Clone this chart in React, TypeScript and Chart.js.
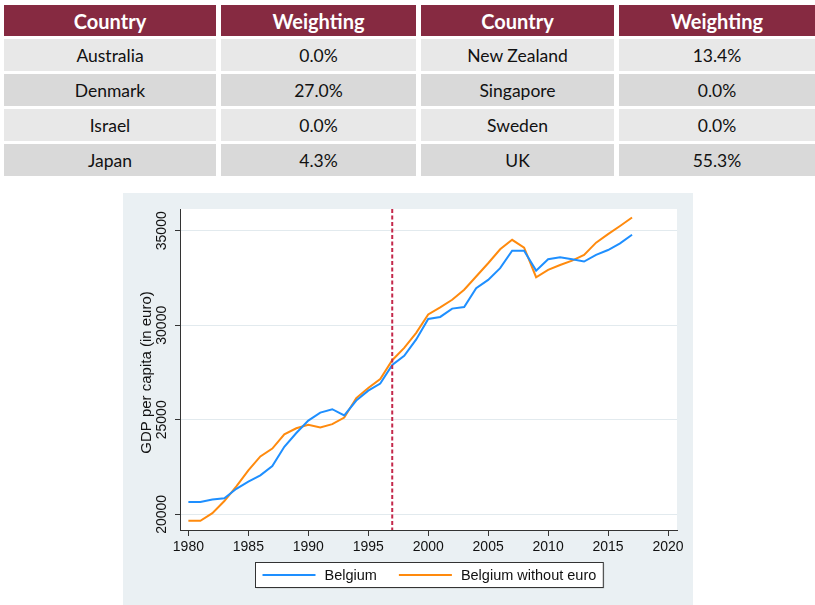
import React, { useEffect, useRef } from "react";
import { Chart, registerables } from "chart.js";

Chart.register(...registerables);

const years = [
  1980, 1981, 1982, 1983, 1984, 1985, 1986, 1987, 1988, 1989,
  1990, 1991, 1992, 1993, 1994, 1995, 1996, 1997, 1998, 1999,
  2000, 2001, 2002, 2003, 2004, 2005, 2006, 2007, 2008, 2009,
  2010, 2011, 2012, 2013, 2014, 2015, 2016, 2017,
];
const belgium = [
  20650, 20650, 20780, 20850, 21350, 21730, 22060, 22550, 23570, 24300,
  24960, 25380, 25560, 25230, 26020, 26540, 26920, 27900, 28380, 29250,
  30330, 30440, 30880, 30960, 31960, 32400, 33020, 33940, 33940, 32890,
  33490, 33600, 33490, 33370, 33720, 33980, 34330, 34790,
];
const belgiumWithoutEuro = [
  19660, 19660, 20060, 20700, 21480, 22320, 23060, 23480, 24230, 24550,
  24740, 24590, 24770, 25120, 26150, 26680, 27160, 28150, 28800, 29600,
  30570, 30950, 31350, 31880, 32580, 33280, 34020, 34520, 34110, 32540,
  32930, 33190, 33420, 33720, 34370, 34820, 35250, 35700,
];
const seriesLabels = ["Belgium", "Belgium without euro"];
const xTicks = [1980, 1985, 1990, 1995, 2000, 2005, 2010, 2015, 2020];
const yTicks = [20000, 25000, 30000, 35000];
const treatmentYear = 1997;
const yTitle = "GDP per capita (in euro)";

const tableHeaders = ["Country", "Weighting", "Country", "Weighting"];
const leftCountries = ["Australia", "Denmark", "Israel", "Japan"];
const leftWeights = ["0.0%", "27.0%", "0.0%", "4.3%"];
const rightCountries = ["New Zealand", "Singapore", "Sweden", "UK"];
const rightWeights = ["13.4%", "0.0%", "0.0%", "55.3%"];

const FONT = "'Liberation Sans', Arial, sans-serif";
const PANEL = "#eaf0f3";

const colX = [4, 221, 421, 619];
const colW = [212, 195, 193, 196];
const rowY = [5, 39, 74, 109, 144];
const rowH = [31, 32, 32, 32, 32];

function Table() {
  const cells: React.ReactNode[] = [];
  tableHeaders.forEach((h, c) => {
    cells.push(
      <div
        key={"h" + c}
        style={{
          position: "absolute",
          left: colX[c],
          top: rowY[0],
          width: colW[c],
          height: rowH[0],
          background: "#862a41",
          color: "#fff",
          fontWeight: 700,
          fontSize: 20,
          display: "flex",
          alignItems: "center",
          justifyContent: "center",
        }}
      >
        {h}
      </div>
    );
  });
  const cols = [leftCountries, leftWeights, rightCountries, rightWeights];
  for (let r = 0; r < 4; r++) {
    for (let c = 0; c < 4; c++) {
      cells.push(
        <div
          key={"c" + r + "_" + c}
          style={{
            position: "absolute",
            left: colX[c],
            top: rowY[r + 1],
            width: colW[c],
            height: rowH[r + 1],
            background: r % 2 === 0 ? "#e8e8e8" : "#d9d9d9",
            color: "#111",
            fontSize: 17.5,
            display: "flex",
            alignItems: "center",
            justifyContent: "center",
          }}
        >
          {cols[c][r]}
        </div>
      );
    }
  }
  return <>{cells}</>;
}

export default function App() {
  const ref = useRef<HTMLCanvasElement | null>(null);

  useEffect(() => {
    if (!ref.current) return;

    const customPlugin = {
      id: "custom",
      beforeDraw(chart: any) {
        const { ctx, chartArea, width, height } = chart;
        ctx.save();
        ctx.fillStyle = PANEL;
        ctx.fillRect(0, 0, width, height);
        ctx.fillStyle = "#ffffff";
        ctx.fillRect(chartArea.left, chartArea.top, chartArea.right - chartArea.left, chartArea.bottom - chartArea.top);
        ctx.restore();
      },
      afterDatasetsDraw(chart: any) {
        const { ctx, chartArea } = chart;
        const x = chart.scales.x.getPixelForValue(treatmentYear);
        ctx.save();
        ctx.strokeStyle = "#c4284b";
        ctx.lineWidth = 2;
        ctx.setLineDash([4, 2.5]);
        ctx.beginPath();
        ctx.moveTo(x, chartArea.top);
        ctx.lineTo(x, chartArea.bottom);
        ctx.stroke();
        ctx.restore();
      },
      afterDraw(chart: any) {
        const { ctx, chartArea } = chart;
        const ys = chart.scales.y;
        ctx.save();
        // y tick labels, rotated
        ctx.fillStyle = "#111";
        ctx.font = "14px " + FONT;
        ctx.textAlign = "center";
        ctx.textBaseline = "middle";
        yTicks.forEach((v) => {
          const py = ys.getPixelForValue(v);
          ctx.save();
          ctx.translate(39, py);
          ctx.rotate(-Math.PI / 2);
          ctx.fillText(String(v), 0, 0);
          ctx.restore();
        });
        // y title
        ctx.save();
        ctx.font = "15px " + FONT;
        ctx.translate(23.5, (chartArea.top + chartArea.bottom) / 2 + 3);
        ctx.rotate(-Math.PI / 2);
        ctx.fillText(yTitle, 0, 0);
        ctx.restore();

        // legend
        const ds = chart.data.datasets;
        ctx.font = "14.5px " + FONT;
        const pad = 7, lineLen = 53, gap = 9, itemGap = 22;
        const textW = ds.map((d: any) => ctx.measureText(d.label).width);
        let total = pad * 2;
        ds.forEach((d: any, i: number) => {
          total += lineLen + gap + textW[i];
          if (i > 0) total += itemGap;
        });
        const cx = (chartArea.left + chartArea.right) / 2;
        const bx = Math.round(cx - total / 2) + 0.5;
        const by = 369.5;
        const bh = 25;
        ctx.fillStyle = "rgba(0,0,0,0.15)";
        ctx.fillRect(bx + 1, by + 1, total, bh);
        ctx.fillStyle = "#ffffff";
        ctx.fillRect(bx, by, total, bh);
        ctx.strokeStyle = "#333";
        ctx.lineWidth = 1;
        ctx.setLineDash([]);
        ctx.strokeRect(bx, by, total, bh);
        let x = bx + pad;
        const cy = by + bh / 2;
        ds.forEach((d: any, i: number) => {
          if (i > 0) x += itemGap;
          ctx.strokeStyle = d.borderColor;
          ctx.lineWidth = 2;
          ctx.beginPath();
          ctx.moveTo(x, cy);
          ctx.lineTo(x + lineLen, cy);
          ctx.stroke();
          x += lineLen + gap;
          ctx.fillStyle = "#111";
          ctx.textAlign = "left";
          ctx.textBaseline = "middle";
          ctx.fillText(d.label, x, cy + 1);
          x += textW[i];
        });
        ctx.restore();
      },
    };

    const chart = new Chart(ref.current, {
      type: "line",
      data: {
        datasets: [
          {
            label: seriesLabels[0],
            data: years.map((y, i) => ({ x: y, y: belgium[i] })),
            borderColor: "#1e8fff",
            borderWidth: 2,
            pointRadius: 0,
            tension: 0,
          },
          {
            label: seriesLabels[1],
            data: years.map((y, i) => ({ x: y, y: belgiumWithoutEuro[i] })),
            borderColor: "#ff8a0d",
            borderWidth: 2,
            pointRadius: 0,
            tension: 0,
          },
        ],
      },
      options: {
        responsive: false,
        animation: false,
        layout: { padding: { left: 0, right: 16, top: 16, bottom: 0 } },
        plugins: {
          legend: { display: false },
          tooltip: { enabled: false },
        },
        scales: {
          x: {
            type: "linear",
            min: 1979.3,
            max: 2020.75,
            afterBuildTicks: (s: any) => {
              s.ticks = xTicks.map((v) => ({ value: v }));
            },
            afterFit: (s: any) => {
              s.height = 75;
            },
            ticks: {
              font: { family: FONT, size: 14 },
              color: "#111",
              padding: 3,
              maxRotation: 0,
              autoSkip: false,
              callback: (v: any) => String(v),
            },
            grid: {
              drawOnChartArea: false,
              drawTicks: true,
              tickLength: 6,
              tickColor: "#333",
            },
            border: { color: "#333", width: 1 },
          },
          y: {
            type: "linear",
            min: 19170,
            max: 36150,
            afterBuildTicks: (s: any) => {
              s.ticks = yTicks.map((v) => ({ value: v }));
            },
            afterFit: (s: any) => {
              s.width = 57;
            },
            ticks: { display: false },
            grid: {
              color: "#e2eaee",
              lineWidth: 1,
              drawTicks: true,
              tickLength: 5,
              tickColor: "#333",
            },
            border: { color: "#333", width: 1 },
          },
        },
      },
      plugins: [customPlugin],
    });

    return () => chart.destroy();
  }, []);

  return (
    <div
      style={{
        position: "absolute",
        left: 0,
        top: 0,
        width: 815,
        height: 605,
        background: "#fff",
        fontFamily: "Lato, 'Open Sans', sans-serif",
        overflow: "hidden",
      }}
    >
      <Table />
      <canvas
        ref={ref}
        width={570}
        height={412}
        style={{ position: "absolute", left: 123, top: 193, width: 570, height: 412 }}
      />
    </div>
  );
}
